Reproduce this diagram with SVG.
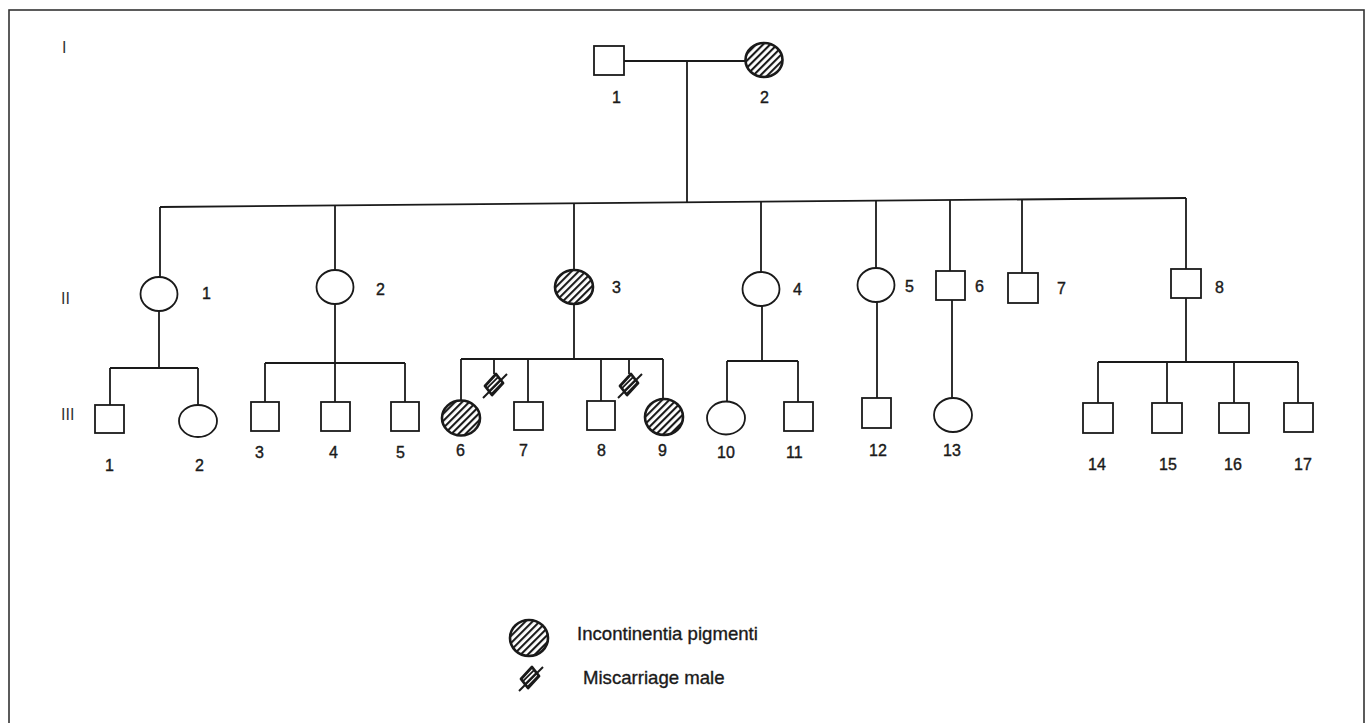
<svg xmlns="http://www.w3.org/2000/svg" width="1368" height="723" viewBox="0 0 1368 723">
<style>
.ln{stroke:#1a1a1a;stroke-width:1.8;fill:none}
.m{fill:#fff;stroke:#1a1a1a;stroke-width:1.8}
.aff{fill:url(#hatch);stroke:#1a1a1a;stroke-width:2.6}
.t{font-family:"Liberation Sans",Arial,Helvetica,sans-serif;font-size:16px;fill:#1a1a1a;stroke:#1a1a1a;stroke-width:0.4}
.g{font-family:"Liberation Sans",Arial,Helvetica,sans-serif;font-size:16px;fill:#333}
.lg{font-family:"Liberation Sans",Arial,Helvetica,sans-serif;font-size:18.6px;fill:#1a1a1a;stroke:#1a1a1a;stroke-width:0.35}
</style>
<defs>
<pattern id="hatch" width="5" height="5" patternUnits="userSpaceOnUse" patternTransform="rotate(-45)">
<rect width="5" height="5" fill="#fff"/>
<rect width="5" height="2.1" fill="#1a1a1a"/>
</pattern>
<pattern id="hatch2" width="3.6" height="3.6" patternUnits="userSpaceOnUse" patternTransform="rotate(-45)">
<rect width="3.6" height="3.6" fill="#fff"/>
<rect width="3.6" height="1.8" fill="#1a1a1a"/>
</pattern>
<g id="misc">
<polygon points="2,-11 9,-2 -2,10 -9,1" fill="url(#hatch2)" stroke="#1a1a1a" stroke-width="2.8" stroke-linejoin="round"/>
<line x1="-11" y1="13" x2="13" y2="-11" stroke="#1a1a1a" stroke-width="2"/>
</g>
</defs>
<rect width="1368" height="723" fill="#fff"/>
<rect x="9" y="10" width="1355" height="740" fill="none" stroke="#333" stroke-width="1.6"/>

<g id="generation-labels">
<text class="g" x="62" y="53">I</text>
<text class="g" x="61" y="304">II</text>
<text class="g" x="61" y="420">III</text>
</g>

<g id="connectors" class="ln">
<line x1="624" y1="61" x2="745" y2="61"/>
<line x1="687" y1="61" x2="687" y2="202.4"/>
<line x1="160" y1="207" x2="1186" y2="198"/>
<line x1="160" y1="207" x2="160" y2="277"/>
<line x1="335" y1="205.5" x2="335" y2="270"/>
<line x1="574" y1="203.4" x2="574" y2="270"/>
<line x1="761" y1="201.7" x2="761" y2="272"/>
<line x1="876" y1="200.7" x2="876" y2="268"/>
<line x1="950" y1="200" x2="950" y2="271"/>
<line x1="1022" y1="199.4" x2="1022" y2="273"/>
<line x1="1186" y1="198" x2="1186" y2="269"/>
<line x1="159" y1="311" x2="159" y2="368"/>
<line x1="110" y1="368" x2="198" y2="368"/>
<line x1="110" y1="368" x2="110" y2="405"/>
<line x1="198" y1="368" x2="198" y2="405"/>
<line x1="335" y1="304" x2="335" y2="363"/>
<line x1="265" y1="363" x2="405" y2="363"/>
<line x1="265" y1="363" x2="265" y2="402"/>
<line x1="335" y1="363" x2="335" y2="402"/>
<line x1="405" y1="363" x2="405" y2="402"/>
<line x1="574" y1="304" x2="574" y2="359"/>
<line x1="461" y1="359" x2="663" y2="359"/>
<line x1="461" y1="359" x2="461" y2="400"/>
<line x1="494" y1="359" x2="494" y2="374"/>
<line x1="528" y1="359" x2="528" y2="402"/>
<line x1="601" y1="359" x2="601" y2="401"/>
<line x1="629" y1="359" x2="629" y2="374"/>
<line x1="663" y1="359" x2="663" y2="399"/>
<line x1="762" y1="306" x2="762" y2="361"/>
<line x1="727" y1="361" x2="798" y2="361"/>
<line x1="727" y1="361" x2="727" y2="401"/>
<line x1="798" y1="361" x2="798" y2="402"/>
<line x1="877" y1="302" x2="877" y2="398"/>
<line x1="952" y1="300" x2="952" y2="398"/>
<line x1="1186" y1="298" x2="1186" y2="362"/>
<line x1="1098" y1="362" x2="1298" y2="362"/>
<line x1="1098" y1="362" x2="1098" y2="403"/>
<line x1="1167" y1="362" x2="1167" y2="403"/>
<line x1="1234" y1="362" x2="1234" y2="403"/>
<line x1="1298" y1="362" x2="1298" y2="403"/>
</g>

<g id="I-1"><rect class="m" x="594" y="46" width="30" height="29"/><text class="t" x="612" y="103">1</text></g>
<g id="I-2"><ellipse class="aff" cx="764" cy="60" rx="18.5" ry="17"/><text class="t" x="760" y="103">2</text></g>

<g id="II-1"><ellipse class="m" cx="159" cy="294" rx="18.5" ry="17"/><text class="t" x="202" y="299">1</text></g>
<g id="II-2"><ellipse class="m" cx="335" cy="287" rx="18.5" ry="17"/><text class="t" x="376" y="295">2</text></g>
<g id="II-3"><ellipse class="aff" cx="574" cy="287" rx="19" ry="17"/><text class="t" x="612" y="293">3</text></g>
<g id="II-4"><ellipse class="m" cx="761" cy="289" rx="18.5" ry="17"/><text class="t" x="793" y="295">4</text></g>
<g id="II-5"><ellipse class="m" cx="876" cy="285" rx="18.5" ry="17"/><text class="t" x="905" y="292">5</text></g>
<g id="II-6"><rect class="m" x="936" y="271" width="29" height="29"/><text class="t" x="975" y="292">6</text></g>
<g id="II-7"><rect class="m" x="1008" y="273" width="30" height="30"/><text class="t" x="1057" y="294">7</text></g>
<g id="II-8"><rect class="m" x="1171" y="269" width="30" height="29"/><text class="t" x="1215" y="293">8</text></g>

<g id="III-1"><rect class="m" x="95" y="405" width="29" height="28"/><text class="t" x="105" y="471">1</text></g>
<g id="III-2"><ellipse class="m" cx="198" cy="421" rx="19" ry="16"/><text class="t" x="195" y="471">2</text></g>
<g id="III-3"><rect class="m" x="251" y="402" width="28" height="29"/><text class="t" x="255" y="458">3</text></g>
<g id="III-4"><rect class="m" x="321" y="402" width="29" height="29"/><text class="t" x="329" y="458">4</text></g>
<g id="III-5"><rect class="m" x="391" y="402" width="28" height="29"/><text class="t" x="396" y="458">5</text></g>
<g id="III-6"><ellipse class="aff" cx="461" cy="418" rx="19" ry="17.5"/><text class="t" x="456" y="456">6</text></g>
<g id="miscarriage-1"><use href="#misc" x="494" y="385"/></g>
<g id="III-7"><rect class="m" x="514" y="402" width="29" height="28"/><text class="t" x="519" y="456">7</text></g>
<g id="III-8"><rect class="m" x="587" y="401" width="28" height="29"/><text class="t" x="597" y="456">8</text></g>
<g id="miscarriage-2"><use href="#misc" x="629" y="385"/></g>
<g id="III-9"><ellipse class="aff" cx="664" cy="417" rx="19" ry="18"/><text class="t" x="658" y="456">9</text></g>
<g id="III-10"><ellipse class="m" cx="726" cy="418" rx="19" ry="16.5"/><text class="t" x="717" y="458">10</text></g>
<g id="III-11"><rect class="m" x="784" y="402" width="29" height="29"/><text class="t" x="786" y="458">11</text></g>
<g id="III-12"><rect class="m" x="862" y="398" width="29" height="30"/><text class="t" x="869" y="456">12</text></g>
<g id="III-13"><ellipse class="m" cx="953" cy="415" rx="19" ry="17"/><text class="t" x="943" y="456">13</text></g>
<g id="III-14"><rect class="m" x="1083" y="403" width="30" height="30"/><text class="t" x="1088" y="470">14</text></g>
<g id="III-15"><rect class="m" x="1152" y="403" width="30" height="30"/><text class="t" x="1159" y="470">15</text></g>
<g id="III-16"><rect class="m" x="1219" y="403" width="30" height="30"/><text class="t" x="1224" y="470">16</text></g>
<g id="III-17"><rect class="m" x="1284" y="403" width="29" height="29"/><text class="t" x="1294" y="470">17</text></g>

<g id="legend">
<ellipse class="aff" cx="529" cy="638" rx="19" ry="18"/>
<text class="lg" x="577" y="640">Incontinentia pigmenti</text>
<use href="#misc" x="530" y="678"/>
<text class="lg" x="583" y="684">Miscarriage male</text>
</g>
</svg>
